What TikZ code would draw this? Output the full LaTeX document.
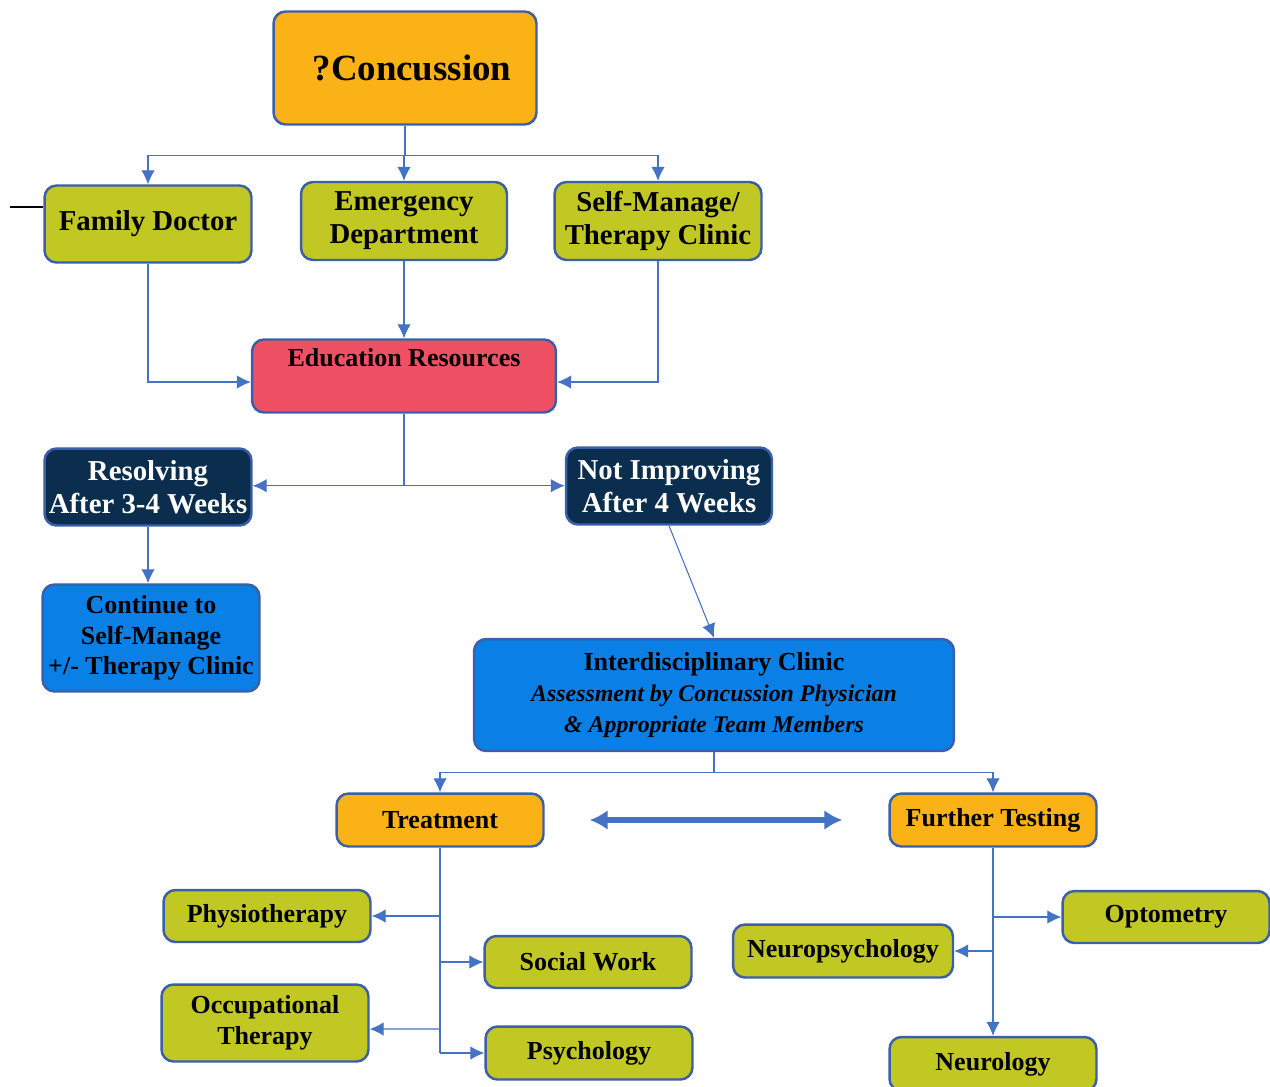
\documentclass[tikz,border=0pt]{standalone}
\usepackage{fontspec}
\setmainfont{Liberation Serif}
\usetikzlibrary{arrows.meta}

\definecolor{boxline}{HTML}{3B5FA9}
\definecolor{linkblue}{HTML}{4472C4}
\definecolor{leaf}{HTML}{C2C823}
\definecolor{amber}{HTML}{FBB216}
\definecolor{rose}{HTML}{EF5064}
\definecolor{navy}{HTML}{0B2E4F}
\definecolor{sky}{HTML}{0A7FE6}

\tikzset{
  box/.style={draw=boxline, line width=1.4pt, rounded corners=0.24cm, inner sep=0pt,
    align=center, font=\bfseries\fontsize{14.8}{17.5}\selectfont},
  bigtext/.style={font=\bfseries\fontsize{16.4}{18.8}\selectfont},
  greenbox/.style={box, fill=leaf},
  amberbox/.style={box, fill=amber},
  rosebox/.style={box, fill=rose},
  navybox/.style={box, fill=navy, text=white, bigtext},
  skybox/.style={box, fill=sky},
  conn/.style={draw=linkblue, line width=0.6pt},
  arr/.style={conn, -{Latex[length=0.28cm,width=0.27cm]}},
}

\begin{document}
\begin{tikzpicture}[x=0.02cm,y=-0.02cm]
\useasboundingbox (0,0) rectangle (1270,1086);

% top row
\node[amberbox, minimum width=5.26cm, minimum height=2.26cm,
  font=\bfseries\fontsize{21}{24}\selectfont] (conc) at (405,68) {\hspace{0.28cm}?Concussion};
\node[greenbox, bigtext, minimum width=4.14cm, minimum height=1.54cm] (fd) at (148,224) {Family Doctor};
\node[greenbox, bigtext, minimum width=4.12cm, minimum height=1.56cm] (ed) at (404,221) {Emergency\\Department};
\node[greenbox, bigtext, minimum width=4.14cm, minimum height=1.56cm] (sm) at (658,221) {Self-Manage/\\Therapy Clinic};
\node[rosebox, minimum width=6.08cm, text height=0.54cm, text depth=0.92cm] (edu) at (404,376) {Education Resources};

% first split
\node[navybox, minimum width=4.14cm, minimum height=1.54cm] (res) at (148,487) {Resolving\\After 3-4 Weeks};
\node[navybox, minimum width=4.12cm, minimum height=1.54cm] (ni) at (669,486) {Not Improving\\After 4 Weeks};
\node[skybox, minimum width=4.34cm, minimum height=2.14cm] (cont) at (151,638)
  {Continue to\\Self-Manage\\+/- Therapy Clinic};
\node[skybox, minimum width=9.6cm, minimum height=2.24cm] (ic) at (714,695)
  {Interdisciplinary Clinic\\
   \fontsize{13.6}{15.4}\selectfont\itshape Assessment by Concussion Physician\\
   \fontsize{13.6}{15.4}\selectfont\itshape \& Appropriate Team Members};

% second split
\node[amberbox, minimum width=4.14cm, minimum height=1.06cm] (tr) at (440,820) {Treatment};
\node[amberbox, minimum width=4.14cm, minimum height=1.06cm] (ft) at (993,820) {Further Testing};
\node[greenbox, minimum width=4.14cm, minimum height=1.04cm] (phys) at (267,916) {Physiotherapy};
\node[greenbox, minimum width=4.14cm, minimum height=1.04cm] (sw) at (588,962) {Social Work};
\node[greenbox, minimum width=4.14cm, minimum height=1.54cm] (ot) at (265,1023) {Occupational\\Therapy};
\node[greenbox, minimum width=4.14cm, minimum height=1.06cm] (psy) at (589,1053) {Psychology};
\node[greenbox, minimum width=4.14cm, minimum height=1.04cm] (opt) at (1166,917) {Optometry};
\node[greenbox, minimum width=4.4cm, minimum height=1.06cm] (npsy) at (843,951) {Neuropsychology};
\node[greenbox, minimum width=4.14cm, minimum height=1.08cm] (neuro) at (993,1064) {Neurology};

% connectors
\coordinate (stray) at (10,207);
\draw[black, line width=0.8pt] (stray) -- (stray -| fd.west);

\draw[conn] (conc.south) -- ++(0,30) coordinate (s1);
\foreach \n in {fd,ed,sm}
  \draw[arr] (s1) -| (\n.north);
\draw[arr] (fd.south) |- ([yshift=-0.12cm]edu.west);
\draw[arr] (ed.south) -- (edu.north);
\draw[arr] (sm.south) |- ([yshift=-0.12cm]edu.east);

\draw[conn] (edu.south) -- ++(0,72) coordinate (s2);
\draw[arr] (s2) -- (s2 -| res.east);
\draw[arr] (s2) -- (s2 -| ni.west);
\draw[arr] (res.south) -- (res.south |- cont.north);
\draw[arr] (ni.south) -- (ic.north);

\draw[conn] (ic.south) -- ++(0,20) coordinate (s3);
\draw[arr] (s3) -| (tr.north);
\draw[arr] (s3) -| (ft.north);
\draw[linkblue, line width=3pt, {Latex[length=0.36cm,width=0.4cm]}-{Latex[length=0.36cm,width=0.4cm]}]
  ([xshift=0.9cm]tr.east) -- ([xshift=-0.92cm]ft.west);

\draw[conn] (tr.south) -- (tr.south |- psy.west);
\foreach \n/\s in {phys/east,sw/west,psy/west}
  \draw[arr] (tr.south |- \n.\s) -- (\n.\s);
\draw[arr] (tr.south |- ot.east) ++(0,6) -- ([yshift=-0.12cm]ot.east);

\draw[arr] (ft.south) -- (ft.south |- neuro.north);
\foreach \n/\s in {opt/west,npsy/east}
  \draw[arr] (ft.south |- \n.\s) -- (\n.\s);
\end{tikzpicture}
\end{document}
